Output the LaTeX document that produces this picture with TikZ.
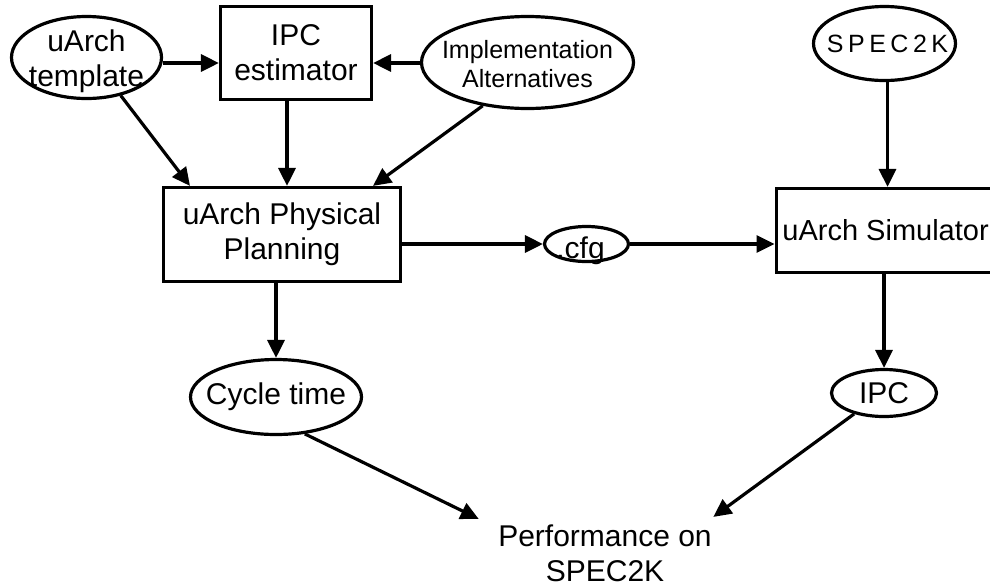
\documentclass[tikz,border=0pt]{standalone}
\usepackage{fontspec}
\setmainfont{Liberation Sans}
\usetikzlibrary{shapes.geometric,arrows.meta}
\begin{document}
\begin{tikzpicture}[x=1pt,y=-1pt,
  line width=3.2pt,
  >={Triangle[length=18pt,width=17pt]},
  ell/.style={ellipse,draw,inner sep=0pt},
  box/.style={rectangle,draw,inner sep=0pt,align=center,font=\fontsize{30}{35}\selectfont},
  every label/.style={align=center,font=\fontsize{30}{35}\selectfont,inner sep=0pt},
  conn/.style={->}]
\useasboundingbox (0,0) rectangle (990,587);
\node[ell,minimum width=150pt,minimum height=82pt,label={[yshift=-4pt]center:uArch\\template}] (tmpl) at (86.5,57.5) {};
\node[box,minimum width=151pt,minimum height=93pt] (est) at (296,53) {IPC\\estimator};
\node[ell,minimum width=212pt,minimum height=92pt,label={[font=\fontsize{25}{29}\selectfont,yshift=-2pt]center:Implementation\\Alternatives}] (impl) at (527.5,62.5) {};
\node[ell,minimum width=142pt,minimum height=74pt,label={[font=\fontsize{25}{29}\selectfont\addfontfeature{LetterSpace=18},xshift=3pt]center:SPEC2K}] (spec) at (884.5,43.5) {};
\node[box,minimum width=237pt,minimum height=94pt] (plan) at (282,234.5) {uArch Physical\\Planning};
\node[ell,minimum width=84pt,minimum height=35pt,label={[xshift=-6pt,yshift=-7pt]center:.cfg}] (cfg) at (586.5,244) {};
\node[box,minimum width=219pt,minimum height=84pt,anchor=west,font=\fontsize{29}{35}\selectfont] (sim) at (774.5,230.5) {uArch Simulator};
\node[ell,minimum width=171pt,minimum height=75pt,label={center:Cycle time}] (cyc) at (276,397) {};
\node[ell,minimum width=105pt,minimum height=47pt,label={center:IPC}] (ipc) at (884,393) {};
\node[align=center,inner sep=0pt,font=\fontsize{30}{35}\selectfont] (perf) at (605,553) {Performance on\\SPEC2K};
\draw[conn] ([yshift=-5.5pt]tmpl.east) -- ([yshift=-5.5pt]tmpl.east -| est.west);
\draw[conn] ([yshift=-0.5pt]impl.west) -- ([yshift=-0.5pt]impl.west -| est.east);
\draw[conn] (tmpl.-48) -- ([xshift=-92pt]plan.north);
\draw[conn] ([xshift=-9pt]est.south) -- ([xshift=-9pt]est.south |- plan.north);
\draw[conn] (impl.224) -- ([xshift=91pt]plan.north);
\draw[conn] (plan.east |- cfg.west) -- (cfg.west);
\draw[conn] (cfg.east) -- (cfg.east -| sim.west);
\draw[conn] (cyc.north |- plan.south) -- (cyc.north);
\draw[conn] ([xshift=3pt]spec.south) -- ([xshift=3pt]spec.south |- sim.north);
\draw[conn] (ipc.north |- sim.south) -- (ipc.north);
\draw[conn] (cyc.-52) -- ([xshift=-18pt,yshift=4pt]perf.north west);
\draw[conn] (ipc.215) -- ([xshift=0pt,yshift=6pt]perf.north east);
\end{tikzpicture}
\end{document}
